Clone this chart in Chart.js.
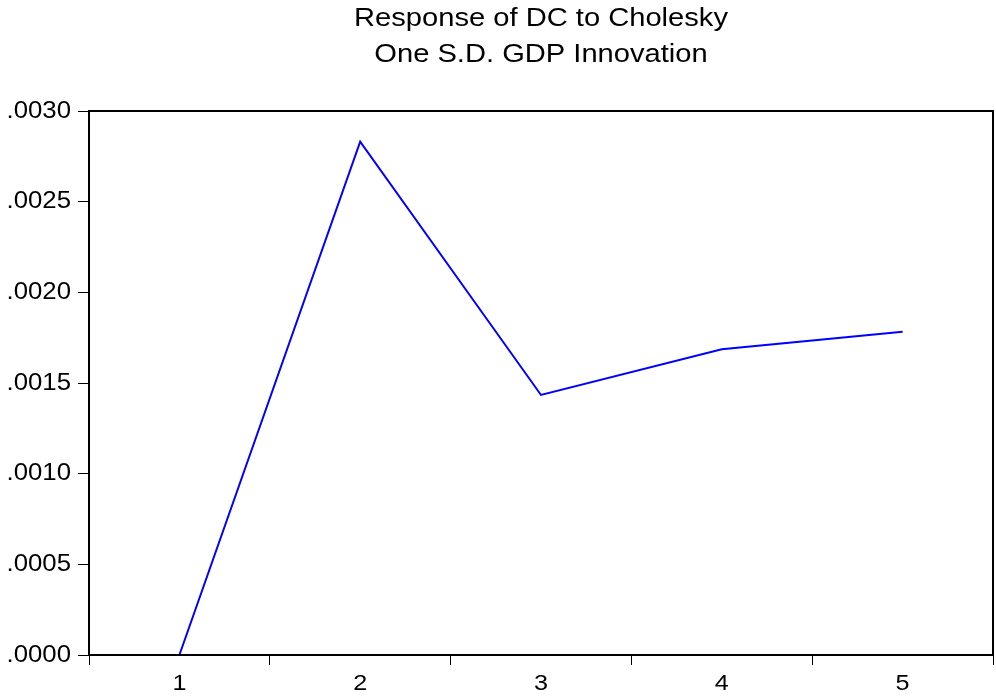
<!DOCTYPE html>
<html>
<head>
<meta charset="utf-8">
<title>Response of DC to Cholesky One S.D. GDP Innovation</title>
<script src="https://cdn.jsdelivr.net/npm/chart.js@4/dist/chart.umd.min.js"></script>
<style>
  html, body { margin: 0; padding: 0; background: #ffffff; }
  #wrap { width: 996px; height: 698px; }
</style>
</head>
<body>
<div id="wrap"><canvas id="irf" width="996" height="698"></canvas></div>
<script>
// Impulse response periods and the response of DC to a GDP shock
const periods = ['1', '2', '3', '4', '5'];
const responseDC = [0.0000, 0.002831, 0.001434, 0.001686, 0.001783];
const yTickValues = [0.0000, 0.0005, 0.0010, 0.0015, 0.0020, 0.0025, 0.0030];
const titleLines = ['Response of DC to Cholesky', 'One S.D. GDP Innovation'];

const FONT = '"Liberation Sans", Arial, Helvetica, sans-serif';
const STRETCH = 1.12; // wide lettering, as in EViews graph exports

function fmtTick(v) {
  return v.toFixed(4).replace(/^0/, '');
}

function stretchedText(ctx, text, x, y, align, size) {
  ctx.save();
  ctx.translate(x, y);
  ctx.scale(STRETCH, 1);
  ctx.font = size + 'px ' + FONT;
  ctx.fillStyle = '#000000';
  ctx.textAlign = align;
  ctx.textBaseline = 'alphabetic';
  ctx.fillText(text, 0, 0);
  ctx.restore();
}

// Frame, title and axis labels
const framePlugin = {
  id: 'eviewsFrame',
  afterDraw(chart) {
    const { ctx, chartArea, scales } = chart;
    ctx.save();
    ctx.strokeStyle = '#000000';
    ctx.lineWidth = 2;
    ctx.strokeRect(chartArea.left, chartArea.top,
                   chartArea.right - chartArea.left, chartArea.bottom - chartArea.top);
    ctx.restore();

    const cx = (chartArea.left + chartArea.right) / 2;
    stretchedText(ctx, titleLines[0], cx, 26, 'center', 26);
    stretchedText(ctx, titleLines[1], cx, 61.5, 'center', 26);

    yTickValues.forEach(v => {
      const y = scales.y.getPixelForValue(v);
      stretchedText(ctx, fmtTick(v), 71, y + 6.5, 'right', 23);
    });
    periods.forEach((p, i) => {
      const x = scales.x.getPixelForValue(i);
      stretchedText(ctx, p, x, 689.5, 'center', 22.5);
    });
  }
};

new Chart(document.getElementById('irf'), {
  type: 'line',
  data: {
    labels: periods,
    datasets: [{
      data: responseDC,
      borderColor: '#0000ff',
      borderWidth: 2,
      pointRadius: 0,
      tension: 0,
      fill: false,
      clip: false
    }]
  },
  options: {
    responsive: false,
    animation: false,
    layout: { padding: { top: 111, right: 3, left: 0, bottom: 0 } },
    plugins: {
      legend: { display: false },
      tooltip: { enabled: false },
      title: { display: false }
    },
    scales: {
      x: {
        type: 'category',
        offset: true,
        grid: {
          offset: true,
          drawOnChartArea: false,
          drawTicks: true,
          tickLength: 10,
          color: '#000000',
          lineWidth: 1
        },
        border: { display: false },
        ticks: { display: false },
        afterFit(scale) { scale.height = 43; }
      },
      y: {
        min: 0,
        max: 0.003,
        afterBuildTicks(scale) {
          scale.ticks = yTickValues.map(v => ({ value: v }));
        },
        grid: {
          drawOnChartArea: false,
          drawTicks: true,
          tickLength: 11,
          color: '#000000',
          lineWidth: 1
        },
        border: { display: false },
        ticks: { display: false },
        afterFit(scale) { scale.width = 89; }
      }
    }
  },
  plugins: [framePlugin]
});
</script>
</body>
</html>
